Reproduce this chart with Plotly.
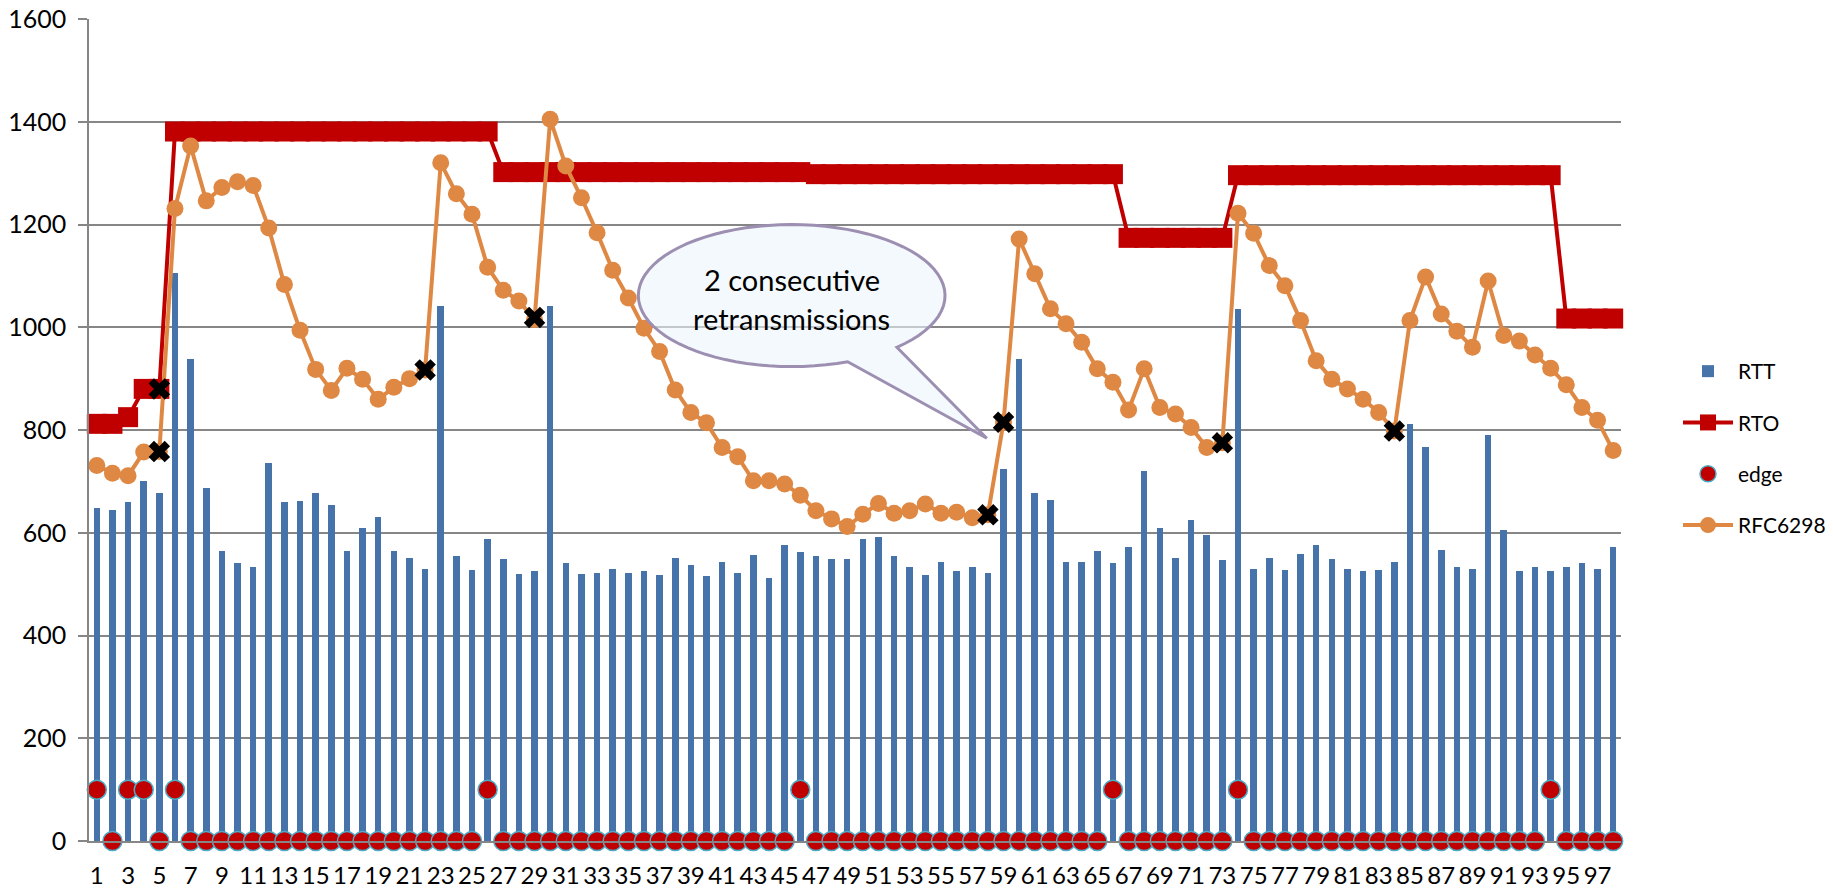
import numpy as np
import plotly.graph_objects as go

categories = list(range(1, 99))

rtt = [648, 644, 659, 701, 677, 1105, 938, 688, 564, 541,
       533, 736, 659, 662, 677, 654, 564, 609, 630, 564,
       551, 530, 1041, 554, 528, 588, 549, 520, 525, 1041,
       541, 520, 522, 530, 521, 525, 517, 551, 538, 515,
       544, 521, 556, 512, 577, 562, 554, 549, 549, 588,
       591, 554, 533, 517, 544, 525, 533, 521, 725, 938,
       677, 664, 544, 544, 564, 541, 572, 720, 609, 551,
       625, 596, 546, 1036, 530, 551, 528, 559, 577, 549,
       530, 525, 528, 544, 811, 767, 567, 533, 530, 791,
       606, 525, 533, 525, 533, 541, 530, 572]

rto = [812, 812, 825, 880, 880] + [1381] * 21 + [1302] * 20 + [1298] * 20 \
      + [1174] * 7 + [1296] * 21 + [1017] * 4

edge = [100, 0, 100, 100, 0, 100] + [0] * 19 + [100] + [0] * 19 + [100] \
       + [0] * 19 + [100] + [0] * 7 + [100] + [0] * 19 + [100] + [0] * 4

rfc6298 = [731, 716, 711, 757, 758, 1231, 1353, 1246, 1272, 1283,
           1276, 1193, 1083, 994, 918, 877, 920, 899, 860, 883,
           900, 917, 1320, 1260, 1220, 1117, 1072, 1051, 1015, 1405,
           1314, 1252, 1184, 1111, 1057, 998, 953, 878, 834, 814,
           766, 748, 701, 701, 695, 673, 643, 627, 612, 636,
           657, 638, 643, 656, 638, 640, 629, 635, 815, 1172,
           1104, 1036, 1007, 971, 919, 893, 839, 919, 844, 831,
           805, 766, 775, 1222, 1183, 1120, 1081, 1013, 935, 899,
           880, 860, 834, 798, 1013, 1098, 1026, 992, 961, 1090,
           984, 973, 946, 920, 888, 844, 819, 760]

retx_x = [5, 5, 22, 29, 58, 59, 73, 84]
retx_y = [880, 758, 917, 1019, 635, 815, 775, 798]

tick_vals = list(range(1, 98, 2))
tick_text = [str(v) for v in tick_vals]

FONT = "Lato"
GRID = "#868686"

# page has an 8px body margin; figure is sized to fit inside the window
W, H = 1825, 881

fig = go.Figure()

fig.add_trace(go.Bar(
    x=categories, y=rtt, name="RTT", width=0.42,
    marker=dict(color="#4674AA", line=dict(width=0)),
    legendgroup="a"))

fig.add_trace(go.Scatter(
    x=categories, y=rto, name="RTO", mode="lines+markers",
    line=dict(color="#C00000", width=4),
    marker=dict(symbol="square", size=20, color="#C00000"),
    cliponaxis=False, legendgroup="b"))

fig.add_trace(go.Scatter(
    x=categories, y=edge, name="edge", mode="markers",
    marker=dict(symbol="circle", size=19, color="#C00000",
                line=dict(color="#4BACC6", width=1.5)),
    cliponaxis=False, legendgroup="c"))

fig.add_trace(go.Scatter(
    x=categories, y=rfc6298, name="RFC6298", mode="lines+markers",
    line=dict(color="#DE8844", width=4),
    marker=dict(symbol="circle", size=17, color="#DE8844"),
    cliponaxis=False, legendgroup="d"))

fig.add_trace(go.Scatter(
    x=retx_x, y=retx_y, mode="markers", showlegend=False,
    marker=dict(symbol="x", size=19, color="black"),
    cliponaxis=False))

# speech bubble (ellipse + tail), in data coordinates
cx, cy, rx, ry = 45.45, 1061.6, 9.81, 138.2
a1, a2 = np.deg2rad(-46.7), np.deg2rad(-68.6) + 2 * np.pi
tip = (57.93, 784)
ang = np.linspace(a1, a2, 80)
px = cx + rx * np.cos(ang)
py = cy + ry * np.sin(ang)
path = "M {:.3f},{:.2f} ".format(px[0], py[0])
path += " ".join("L {:.3f},{:.2f}".format(a, b) for a, b in zip(px[1:], py[1:]))
path += " L {:.3f},{:.2f} Z".format(*tip)
fig.add_shape(type="path", path=path, xref="x", yref="y",
              fillcolor="rgba(236,245,252,0.6)",
              line=dict(color="#9C8FB2", width=3), layer="above")
fig.add_annotation(x=cx, y=1093, xref="x", yref="y", text="2 consecutive",
                   showarrow=False, font=dict(family=FONT, size=29, color="black"))
fig.add_annotation(x=cx, y=1018, xref="x", yref="y", text="retransmissions",
                   showarrow=False, font=dict(family=FONT, size=29, color="black"))

fig.update_layout(
    width=W, height=H,
    margin=dict(l=81, r=212, t=11, b=48),
    paper_bgcolor="white", plot_bgcolor="white",
    font=dict(family=FONT, size=24, color="black"),
    bargap=0,
    legend=dict(xref="container", yref="container", x=1670 / W, y=1 - 343 / H,
                xanchor="left", yanchor="top", font=dict(size=21, family=FONT),
                itemwidth=50, traceorder="grouped", tracegroupgap=21,
                bgcolor="rgba(0,0,0,0)"),
    showlegend=True,
)
fig.update_xaxes(range=[0.5, 98.5], tickmode="array", tickvals=tick_vals, ticktext=tick_text,
                 showgrid=False, zeroline=False, showline=True, linecolor=GRID, linewidth=1.5,
                 ticks="", ticklabelstandoff=12, tickfont=dict(size=24, family=FONT),
                 automargin=False, ticklabeloverflow="allow")
fig.update_yaxes(range=[0, 1600], tickvals=[0, 200, 400, 600, 800, 1000, 1200, 1400, 1600],
                 showgrid=True, gridcolor=GRID, gridwidth=1.5, zeroline=False,
                 showline=True, linecolor=GRID, linewidth=1.5,
                 ticks="outside", ticklen=9, tickcolor=GRID, tickwidth=1.5,
                 ticklabelstandoff=7, tickfont=dict(size=25, family=FONT),
                 automargin=False, ticklabeloverflow="allow")

fig.write_html("out.html")
